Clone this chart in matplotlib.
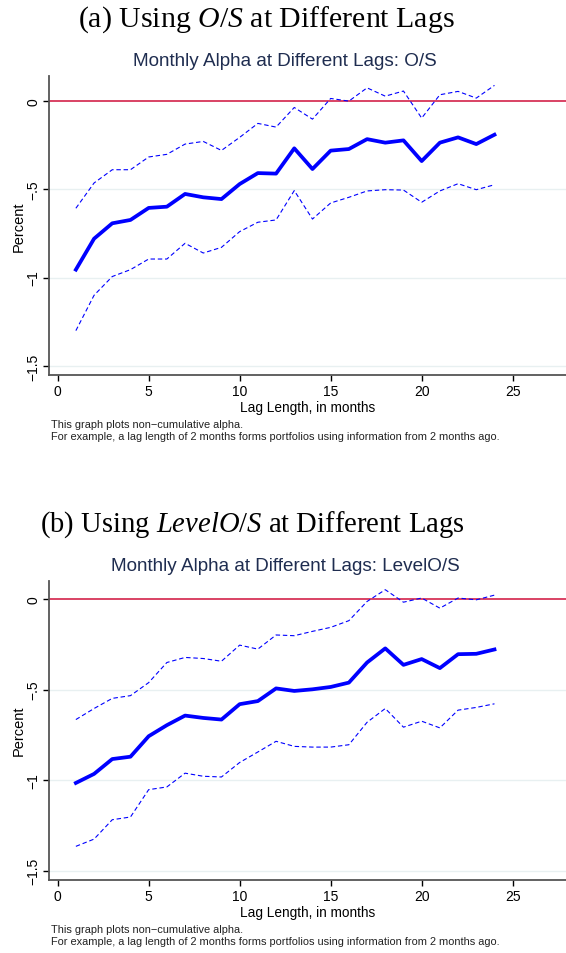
import numpy as np
import matplotlib
matplotlib.use("Agg")
import matplotlib.pyplot as plt

plt.rcParams['font.family'] = ['Liberation Sans', 'DejaVu Sans']
plt.rcParams['mathtext.fontset'] = 'custom'
plt.rcParams['mathtext.rm'] = 'Liberation Serif'
plt.rcParams['mathtext.it'] = 'Liberation Serif:italic'

lags = np.arange(1, 25)

# panel (a): O/S
os_alpha = [-0.955, -0.78, -0.693, -0.674, -0.606, -0.599, -0.527, -0.546, -0.556, -0.471,
            -0.409, -0.412, -0.269, -0.386, -0.282, -0.273, -0.217, -0.237, -0.224, -0.341,
            -0.237, -0.207, -0.245, -0.192]
os_upper = [-0.608, -0.465, -0.39, -0.39, -0.318, -0.303, -0.245, -0.23, -0.281, -0.207,
            -0.128, -0.149, -0.038, -0.104, 0.013, -0.002, 0.073, 0.026, 0.055, -0.098,
            0.034, 0.053, 0.015, 0.087]
os_lower = [-1.3, -1.10, -0.994, -0.955, -0.895, -0.895, -0.806, -0.861, -0.829, -0.74,
            -0.687, -0.674, -0.508, -0.669, -0.578, -0.546, -0.51, -0.503, -0.505, -0.574,
            -0.51, -0.469, -0.503, -0.475]

# panel (b): LevelO/S
lvl_alpha = [-1.015, -0.965, -0.883, -0.87, -0.757, -0.696, -0.643, -0.656, -0.665, -0.58,
             -0.563, -0.493, -0.507, -0.498, -0.485, -0.461, -0.35, -0.272, -0.363, -0.331,
             -0.381, -0.304, -0.302, -0.278]
lvl_upper = [-0.665, -0.604, -0.548, -0.533, -0.461, -0.35, -0.322, -0.328, -0.343, -0.254,
             -0.276, -0.198, -0.202, -0.178, -0.156, -0.119, -0.013, 0.052, -0.017, 0.006,
             -0.05, 0.006, -0.004, 0.022]
lvl_lower = [-1.365, -1.325, -1.218, -1.203, -1.052, -1.037, -0.961, -0.978, -0.982, -0.902,
             -0.844, -0.785, -0.813, -0.817, -0.817, -0.804, -0.68, -0.604, -0.707, -0.674,
             -0.711, -0.613, -0.598, -0.578]

yticks = [-1.5, -1, -0.5, 0]
ytick_labels = ['\u22121.5', '\u22121', '\u2212.5', '0']
xticks = [0, 5, 10, 15, 20, 25]

W, H = 566, 954
fig = plt.figure(figsize=(W / 100, H / 100), dpi=100)
fig.patch.set_facecolor('white')

navy = '#1f2d50'
axcol = '#555555'


def draw_panel(top, heading, hsize, hx, title, alpha, upper, lower, ytop):
    # top = pixel row of axes top
    bottom = top + 298.5
    ax_w = W - 49
    ax = fig.add_axes([49 / W, 1 - bottom / H, ax_w / W, (bottom - top) / H])
    ax.axhline(0, color='#d0103a', lw=1.1, zorder=2)
    for t in yticks[:-1]:
        ax.axhline(t, color='#e8f0f1', lw=1.0, zorder=1)
    ax.plot(lags, alpha, color='#0000ff', lw=2.7, zorder=4, solid_joinstyle='round')
    ax.plot(lags, upper, color='#0000ff', lw=0.8, ls=(0, (4, 2.5)), zorder=3)
    ax.plot(lags, lower, color='#0000ff', lw=0.8, ls=(0, (4, 2.5)), zorder=3)

    ax.set_xlim(-0.476, 27.93)
    ax.set_ylim(-1.548, ytop)
    ax.set_xticks(xticks)
    ax.set_yticks(yticks)
    ax.set_yticklabels(ytick_labels, rotation=90, va='center')
    ax.tick_params(axis='both', colors='black', labelsize=10, length=4, width=1.0)
    ax.tick_params(axis='x', pad=3)
    ax.tick_params(axis='y', pad=2)
    for s in ['top', 'right']:
        ax.spines[s].set_visible(False)
    for s in ['left', 'bottom']:
        ax.spines[s].set_color(axcol)
        ax.spines[s].set_linewidth(1.3)
    ax.set_xlabel('Lag Length, in months', fontsize=9.8, labelpad=1)
    ax.set_ylabel('Percent', fontsize=10.5)
    ax.yaxis.set_label_coords(-23 / ax_w, 0.5)

    fig.text(hx / W, 1 - (top - 57) / H, heading, fontsize=hsize, ha='center', va='center',
             family='Liberation Serif')
    fig.text(285 / W, 1 - (top - 15) / H, title, fontsize=13.6, ha='center', va='center',
             color=navy)
    fig.text(51 / W, 1 - (bottom + 50) / H, 'This graph plots non\u2212cumulative alpha.',
             fontsize=7.9, ha='left', va='center', color='#222222')
    fig.text(51 / W, 1 - (bottom + 62) / H,
             'For example, a lag length of 2 months forms portfolios using information from 2 months ago.',
             fontsize=7.9, ha='left', va='center', color='#222222')
    return ax


ax1 = draw_panel(77, r'(a) Using $O/S$ at Different Lags', 21.5, 266,
                 'Monthly Alpha at Different Lags: O/S', os_alpha, os_upper, os_lower, 0.14)
ax2 = draw_panel(582, r'(b) Using $LevelO/S$ at Different Lags', 20.6, 252,
                 'Monthly Alpha at Different Lags: LevelO/S', lvl_alpha, lvl_upper, lvl_lower, 0.10)

fig.savefig('out.png', dpi=100, facecolor='white')
